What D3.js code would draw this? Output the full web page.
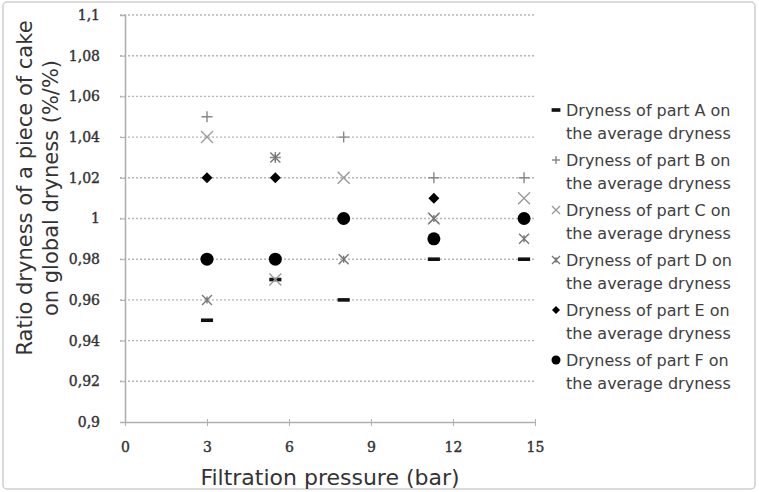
<!DOCTYPE html>
<html>
<head>
<meta charset="utf-8">
<script src="https://cdn.jsdelivr.net/npm/d3@7"></script>
<style>
  body { margin: 0; background: #fff; }
  svg { display: block; }
</style>
</head>
<body>
<div id="chart"></div>
<script>
// pressures and ratios
const pressures = [3, 5.5, 8, 11.3, 14.6];
const partA = [0.95, 0.97, 0.96, 0.98, 0.98];
const partB = [1.05, 1.03, 1.04, 1.02, 1.02];
const partC = [1.04, 0.97, 1.02, 1.00, 1.01];
const partD = [0.96, 1.03, 0.98, 1.00, 0.99];
const partE = [1.02, 1.02, 1.00, 1.01, 1.00];
const partF = [0.98, 0.98, 1.00, 0.99, 1.00];

const xTicks = [0, 3, 6, 9, 12, 15];
const yTicks = [0.9, 0.92, 0.94, 0.96, 0.98, 1, 1.02, 1.04, 1.06, 1.08, 1.1];

const seriesNames = ["A", "B", "C", "D", "E", "F"];
const seriesValues = [partA, partB, partC, partD, partE, partF];

const width = 759, height = 492;

const svg = d3.select("#chart").append("svg")
    .attr("width", width)
    .attr("height", height);

// outer frame
svg.append("rect")
    .attr("x", 3).attr("y", 2)
    .attr("width", 752).attr("height", 487)
    .attr("rx", 4)
    .attr("fill", "#fff")
    .attr("stroke", "#d0d0d0")
    .attr("stroke-width", 1.5);

const x = d3.scaleLinear().domain([0, 15]).range([125, 535]);
const y = d3.scaleLinear().domain([0.9, 1.1]).range([422, 15]);

const fmt = v => String(+v.toFixed(2)).replace(".", ",");

// dashed gridlines
svg.append("g")
    .selectAll("line")
    .data(yTicks.filter(d => d > 0.9))
    .enter()
    .append("line")
    .attr("x1", 120)
    .attr("x2", x(15))
    .attr("y1", d => y(d))
    .attr("y2", d => y(d))
    .attr("stroke", "#b5b5b5")
    .attr("stroke-width", 1.4)
    .attr("stroke-dasharray", "2,2");

// y axis
const yAxis = svg.append("g")
    .attr("transform", `translate(${x(0)},0)`)
    .call(d3.axisLeft(y).tickValues(yTicks).tickSize(5).tickPadding(20).tickFormat(fmt));
yAxis.select(".domain").attr("stroke", "#b0b0b0").attr("stroke-width", 1.6);
yAxis.selectAll(".tick line").attr("stroke", "#b0b0b0");
yAxis.selectAll(".tick text")
    .attr("font-family", "DejaVu Serif")
    .attr("font-size", 14)
    .attr("fill", "#333")
    .attr("stroke", "#333")
    .attr("stroke-width", 0.4);

// x axis
const xAxis = svg.append("g")
    .attr("transform", `translate(0,${y(0.9)})`)
    .call(d3.axisBottom(x).tickValues(xTicks).tickSize(4).tickSizeOuter(0).tickPadding(16));
xAxis.select(".domain").attr("stroke", "#b0b0b0").attr("stroke-width", 1.6);
xAxis.selectAll(".tick line").attr("stroke", "#b0b0b0").attr("y1", -3);
xAxis.selectAll(".tick text")
    .attr("font-family", "DejaVu Serif")
    .attr("font-size", 14)
    .attr("fill", "#333")
    .attr("stroke", "#333")
    .attr("stroke-width", 0.4);

// marker shapes
function drawMarker(g, name, size) {
    const s = size;
    if (name === "A") {
        g.append("rect").attr("x", -s * 0.55).attr("y", -1.8)
            .attr("width", s * 1.1).attr("height", 3.6).attr("fill", "#111");
    } else if (name === "B") {
        g.append("path").attr("d", `M${-s / 2},0H${s / 2}M0,${-s / 2}V${s / 2}`)
            .attr("stroke", "#888").attr("stroke-width", 1.4).attr("fill", "none");
    } else if (name === "C") {
        g.append("path").attr("d", `M${-s / 2},${-s / 2}L${s / 2},${s / 2}M${-s / 2},${s / 2}L${s / 2},${-s / 2}`)
            .attr("stroke", "#9a9a9a").attr("stroke-width", 1.4).attr("fill", "none");
    } else if (name === "D") {
        g.append("path").attr("d", `M${-s / 2},${-s / 2}L${s / 2},${s / 2}M${-s / 2},${s / 2}L${s / 2},${-s / 2}M0,${-s * 0.35}V${s * 0.35}`)
            .attr("stroke", "#777").attr("stroke-width", 1.4).attr("fill", "none");
    } else if (name === "E") {
        g.append("path").attr("d", `M0,${-s / 2}L${s / 2},0L0,${s / 2}L${-s / 2},0Z`)
            .attr("fill", "#000");
    } else if (name === "F") {
        g.append("circle").attr("r", s / 2).attr("fill", "#000");
    }
}

const markerSize = { A: 11, B: 11, C: 12, D: 10, E: 11, F: 13 };

seriesNames.forEach((name, i) => {
    const pts = pressures.map((p, j) => ({ p, v: seriesValues[i][j] }));
    svg.append("g")
        .selectAll("g")
        .data(pts)
        .enter()
        .append("g")
        .attr("transform", d => `translate(${x(d.p)},${y(d.v)})`)
        .each(function () { drawMarker(d3.select(this), name, markerSize[name]); });
});

// axis titles
svg.append("text")
    .attr("x", 330).attr("y", 485)
    .attr("text-anchor", "middle")
    .attr("font-family", "DejaVu Sans")
    .attr("font-size", 22)
    .attr("fill", "#333")
    .text("Filtration pressure (bar)");

const yTitle = svg.append("text")
    .attr("transform", "translate(0,188) rotate(-90)")
    .attr("text-anchor", "middle")
    .attr("font-family", "DejaVu Sans")
    .attr("font-size", 21)
    .attr("fill", "#333");
yTitle.append("tspan").attr("x", 0).attr("y", 32).text("Ratio dryness of a piece of cake");
yTitle.append("tspan").attr("x", 0).attr("y", 58).text("on global dryness (%/%)");

// legend
const legend = svg.append("g");
seriesNames.forEach((name, i) => {
    const ly = 110 + i * 50;
    const mg = legend.append("g").attr("transform", `translate(556,${ly})`);
    drawMarker(mg, name, name === "F" ? 9 : 8);
    const t = legend.append("text")
        .attr("font-family", "DejaVu Sans")
        .attr("font-size", 16)
        .attr("fill", "#404040");
    t.append("tspan").attr("x", 566).attr("y", ly + 6).text(`Dryness of part ${name} on`);
    t.append("tspan").attr("x", 566).attr("y", ly + 29).text("the average dryness");
});
</script>
</body>
</html>
